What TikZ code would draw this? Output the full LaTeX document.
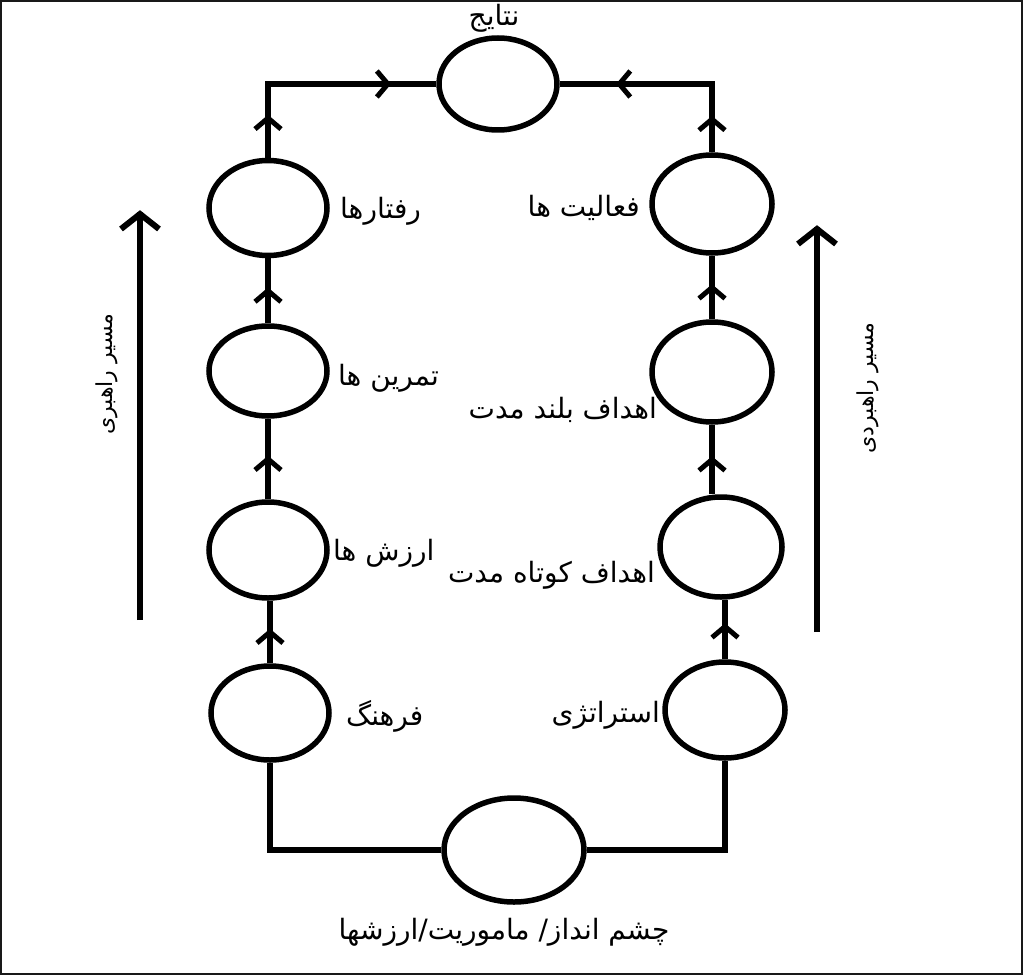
\documentclass[tikz,border=0pt]{standalone}
\usepackage{fontspec}
\newfontfamily\arabicfont[Script=Arabic]{DejaVu Sans}
\TeXXeTstate=1
\usetikzlibrary{shapes.geometric,decorations.markings}
\tikzset{
  ell/.style={ellipse, draw, line width=5.5pt, minimum width=#1, inner sep=0pt},
  conn/.style={line width=6pt, line join=miter},
  chev/.style={postaction={decorate, decoration={markings, mark=at position #1 with {\draw[line width=5pt, line join=miter, line cap=butt] (-11pt,13pt) -- (0pt,0pt) -- (-11pt,-13pt);}}}},
  bigchev/.style={postaction={decorate, decoration={markings, mark=at position 1 with {\draw[line width=6pt, line join=miter, line cap=butt] (-17pt,19pt) -- (-2pt,0pt) -- (-17pt,-19pt);}}}},
  lbl/.style={font=\arabicfont\fontsize{28}{32}\selectfont, inner sep=0pt},
  sidelbl/.style={font=\arabicfont\fontsize{22}{26}\selectfont, inner sep=0pt, rotate=90},
}
\begin{document}
\begin{tikzpicture}[x=1pt,y=-1pt]
\useasboundingbox (0,0) rectangle (1024,976);
\draw[line width=2.5pt, black!90] (1,1) rectangle (1022,974);
% top and bottom ellipses
\node[ell=118pt, minimum height=92pt] (top) at (498,84) {};
\node[ell=140pt, minimum height=104pt] (bot) at (514,850) {};
% left column
\node[ell=118pt, minimum height=95pt] (r4) at (268,208) {};
\node[ell=118pt, minimum height=90pt] (r3) at (268,371) {};
\node[ell=118pt, minimum height=96pt] (r2) at (268,550) {};
\node[ell=118pt, minimum height=94pt] (r1) at (270,713) {};
% right column
\node[ell=120pt, minimum height=98pt] (s4) at (712,204) {};
\node[ell=120pt, minimum height=100pt] (s3) at (712,372) {};
\node[ell=122pt, minimum height=100pt] (s2) at (721,547) {};
\node[ell=120pt, minimum height=96pt] (s1) at (725,710) {};
% connectors
\draw[conn] (bot.west) -| (r1.south);
\draw[conn] (bot.east) -| (s1.south);
\draw[conn, chev=0.5] (r1.north) -- (r1.north |- r2.south);
\draw[conn, chev=0.5] (r2.north) -- (r3.south);
\draw[conn, chev=0.5] (r3.north) -- (r4.south);
\draw[conn, chev=0.164, chev=0.80] (r4.north) |- (top.west);
\draw[conn, chev=0.55] (s1.north) -- (s1.north |- s2.south);
\draw[conn, chev=0.5] (s3.south |- s2.north) -- (s3.south);
\draw[conn, chev=0.5] (s3.north) -- (s4.south);
\draw[conn, chev=0.15, chev=0.73] (s4.north) |- (top.east);
% big side arrows
\coordinate (la0) at (140,620);
\coordinate (la1) at (140,212);
\coordinate (ra0) at (817,632);
\coordinate (ra1) at (817,227);
\draw[conn, line width=6.5pt, bigchev] (la0) -- (la1);
\draw[conn, line width=6.5pt, bigchev] (ra0) -- (ra1);
% labels
\node[lbl] (ttop) at (494,18) {\beginR نتایج\endR};
\node[lbl, anchor=west] (t4) at (340,211) {\beginR رفتارها\endR};
\node[lbl, anchor=west] (t3) at (338,378) {\beginR تمرین ها\endR};
\node[lbl, anchor=west] (t2) at (333,553) {\beginR ارزش ها\endR};
\node[lbl, anchor=west] (t1) at (346,716) {\beginR فرهنگ\endR};
\node[lbl, anchor=east] (u4) at (640,208) {\beginR فعالیت ها\endR};
\node[lbl, anchor=east] (u3) at (657,410) {\beginR اهداف بلند مدت\endR};
\node[lbl, anchor=east] (u2) at (655,575) {\beginR اهداف کوتاه مدت\endR};
\node[lbl, anchor=east] (u1) at (660,715) {\beginR استراتژی\endR};
\node[lbl] (tbot) at (504,932) {\beginR چشم انداز/ ماموریت/ارزشها\endR};
\node[sidelbl] (lpath) at (107,374) {\beginR مسیر راهبری\endR};
\node[sidelbl] (rpath) at (868,388) {\beginR مسیر راهبردی\endR};
\end{tikzpicture}
\end{document}
